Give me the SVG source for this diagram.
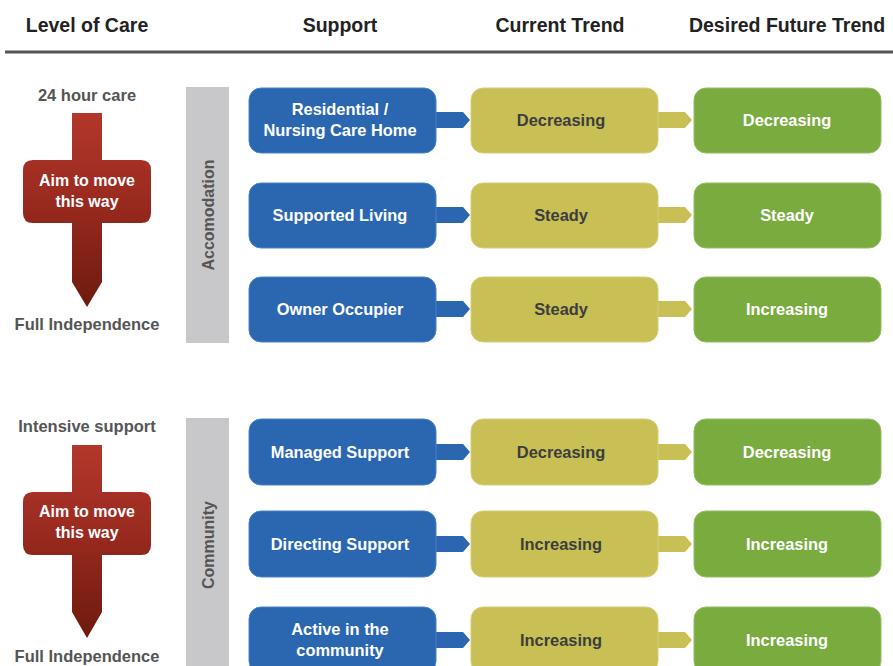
<svg xmlns="http://www.w3.org/2000/svg" width="893" height="666" viewBox="0 0 893 666">
<defs>
<linearGradient id="red" x1="0" y1="0" x2="0" y2="1">
<stop offset="0" stop-color="#b3372b"/>
<stop offset="0.45" stop-color="#9a2a1f"/>
<stop offset="1" stop-color="#6e1a0e"/>
</linearGradient>
<style>
text{font-family:"Liberation Sans",Arial,sans-serif;font-weight:bold;text-anchor:middle}
.hd{font-size:19.5px;fill:#222}
.lvl{font-size:16.5px;fill:#555}
.aim{font-size:16px;fill:#fff}
.side{font-size:16px;fill:#555}
.bar{fill:#c8c8ca}
.blue{fill:#2b67b1;stroke:#4a82c6;stroke-width:1}
.yel{fill:#c8bf55;stroke:#d6cf7a;stroke-width:1}
.grn{fill:#7aab3f;stroke:#93bf62;stroke-width:1}
.tb{fill:#2b67b1}
.ty{fill:#c8bf55}
.wt{font-size:16.4px;fill:#fff}
.dt{font-size:16.4px;fill:#3d3d3d}
</style>
</defs>
<rect width="893" height="666" fill="#fff"/>
<g id="header">
<text class="hd" x="87" y="32">Level of Care</text>
<text class="hd" x="340" y="32">Support</text>
<text class="hd" x="560" y="32">Current Trend</text>
<text class="hd" x="787" y="32">Desired Future Trend</text>
<line x1="5" y1="52" x2="893" y2="52" stroke="#555" stroke-width="3"/>
</g>
<g id="level1">
<text class="lvl" x="87" y="101">24 hour care</text>
<path d="M72 113H102V160H141Q151 160 151 170V213Q151 223 141 223H102V282L87 307L72 282V223H33Q23 223 23 213V170Q23 160 33 160H72Z" fill="url(#red)"/>
<text class="aim" x="87" y="186">Aim to move</text>
<text class="aim" x="87" y="207">this way</text>
<text class="lvl" x="87" y="330">Full Independence</text>
</g>
<g id="level2">
<text class="lvl" x="87" y="432">Intensive support</text>
<path d="M72 445H102V492H141Q151 492 151 502V545Q151 555 141 555H102V612L87 638L72 612V555H33Q23 555 23 545V502Q23 492 33 492H72Z" fill="url(#red)"/>
<text class="aim" x="87" y="517">Aim to move</text>
<text class="aim" x="87" y="538">this way</text>
<text class="lvl" x="87" y="662">Full Independence</text>
</g>
<g id="cat1">
<rect class="bar" x="186" y="87" width="43" height="256"/>
<text class="side" transform="translate(214 215) rotate(-90)">Accomodation</text>
</g>
<g id="cat2">
<rect class="bar" x="186" y="418" width="43" height="260"/>
<text class="side" transform="translate(214 545) rotate(-90)">Community</text>
</g>
<g id="connectors">
<path class="tb" d="M430 112H463L470 120L463 128H430Z"/>
<path class="ty" d="M652 112H685L692 120L685 128H652Z"/>
<path class="tb" d="M430 207H463L470 215L463 223H430Z"/>
<path class="ty" d="M652 207H685L692 215L685 223H652Z"/>
<path class="tb" d="M430 301H463L470 309L463 317H430Z"/>
<path class="ty" d="M652 301H685L692 309L685 317H652Z"/>
<path class="tb" d="M430 444H463L470 452L463 460H430Z"/>
<path class="ty" d="M652 444H685L692 452L685 460H652Z"/>
<path class="tb" d="M430 536H463L470 544L463 552H430Z"/>
<path class="ty" d="M652 536H685L692 544L685 552H652Z"/>
<path class="tb" d="M430 632H463L470 640L463 648H430Z"/>
<path class="ty" d="M652 632H685L692 640L685 648H652Z"/>
</g>
<g id="row1">
<g id="s1"><rect class="blue" x="249" y="88" width="187" height="65" rx="12"/><text class="wt" x="340" y="115">Residential /</text><text class="wt" x="340" y="136">Nursing Care Home</text></g>
<g id="c1"><rect class="yel" x="471" y="88" width="187" height="65" rx="12"/><text class="dt" x="561" y="126">Decreasing</text></g>
<g id="d1"><rect class="grn" x="694" y="88" width="187" height="65" rx="12"/><text class="wt" x="787" y="126">Decreasing</text></g>
</g>
<g id="row2">
<g id="s2"><rect class="blue" x="249" y="183" width="187" height="65" rx="12"/><text class="wt" x="340" y="221">Supported Living</text></g>
<g id="c2"><rect class="yel" x="471" y="183" width="187" height="65" rx="12"/><text class="dt" x="561" y="221">Steady</text></g>
<g id="d2"><rect class="grn" x="694" y="183" width="187" height="65" rx="12"/><text class="wt" x="787" y="221">Steady</text></g>
</g>
<g id="row3">
<g id="s3"><rect class="blue" x="249" y="277" width="187" height="65" rx="12"/><text class="wt" x="340" y="315">Owner Occupier</text></g>
<g id="c3"><rect class="yel" x="471" y="277" width="187" height="65" rx="12"/><text class="dt" x="561" y="315">Steady</text></g>
<g id="d3"><rect class="grn" x="694" y="277" width="187" height="65" rx="12"/><text class="wt" x="787" y="315">Increasing</text></g>
</g>
<g id="row4">
<g id="s4"><rect class="blue" x="249" y="419" width="187" height="66" rx="12"/><text class="wt" x="340" y="458">Managed Support</text></g>
<g id="c4"><rect class="yel" x="471" y="419" width="187" height="66" rx="12"/><text class="dt" x="561" y="458">Decreasing</text></g>
<g id="d4"><rect class="grn" x="694" y="419" width="187" height="66" rx="12"/><text class="wt" x="787" y="458">Decreasing</text></g>
</g>
<g id="row5">
<g id="s5"><rect class="blue" x="249" y="511" width="187" height="66" rx="12"/><text class="wt" x="340" y="550">Directing Support</text></g>
<g id="c5"><rect class="yel" x="471" y="511" width="187" height="66" rx="12"/><text class="dt" x="561" y="550">Increasing</text></g>
<g id="d5"><rect class="grn" x="694" y="511" width="187" height="66" rx="12"/><text class="wt" x="787" y="550">Increasing</text></g>
</g>
<g id="row6">
<g id="s6"><rect class="blue" x="249" y="607" width="187" height="66" rx="12"/><text class="wt" x="340" y="635">Active in the</text><text class="wt" x="340" y="656">community</text></g>
<g id="c6"><rect class="yel" x="471" y="607" width="187" height="66" rx="12"/><text class="dt" x="561" y="646">Increasing</text></g>
<g id="d6"><rect class="grn" x="694" y="607" width="187" height="66" rx="12"/><text class="wt" x="787" y="646">Increasing</text></g>
</g>
</svg>
